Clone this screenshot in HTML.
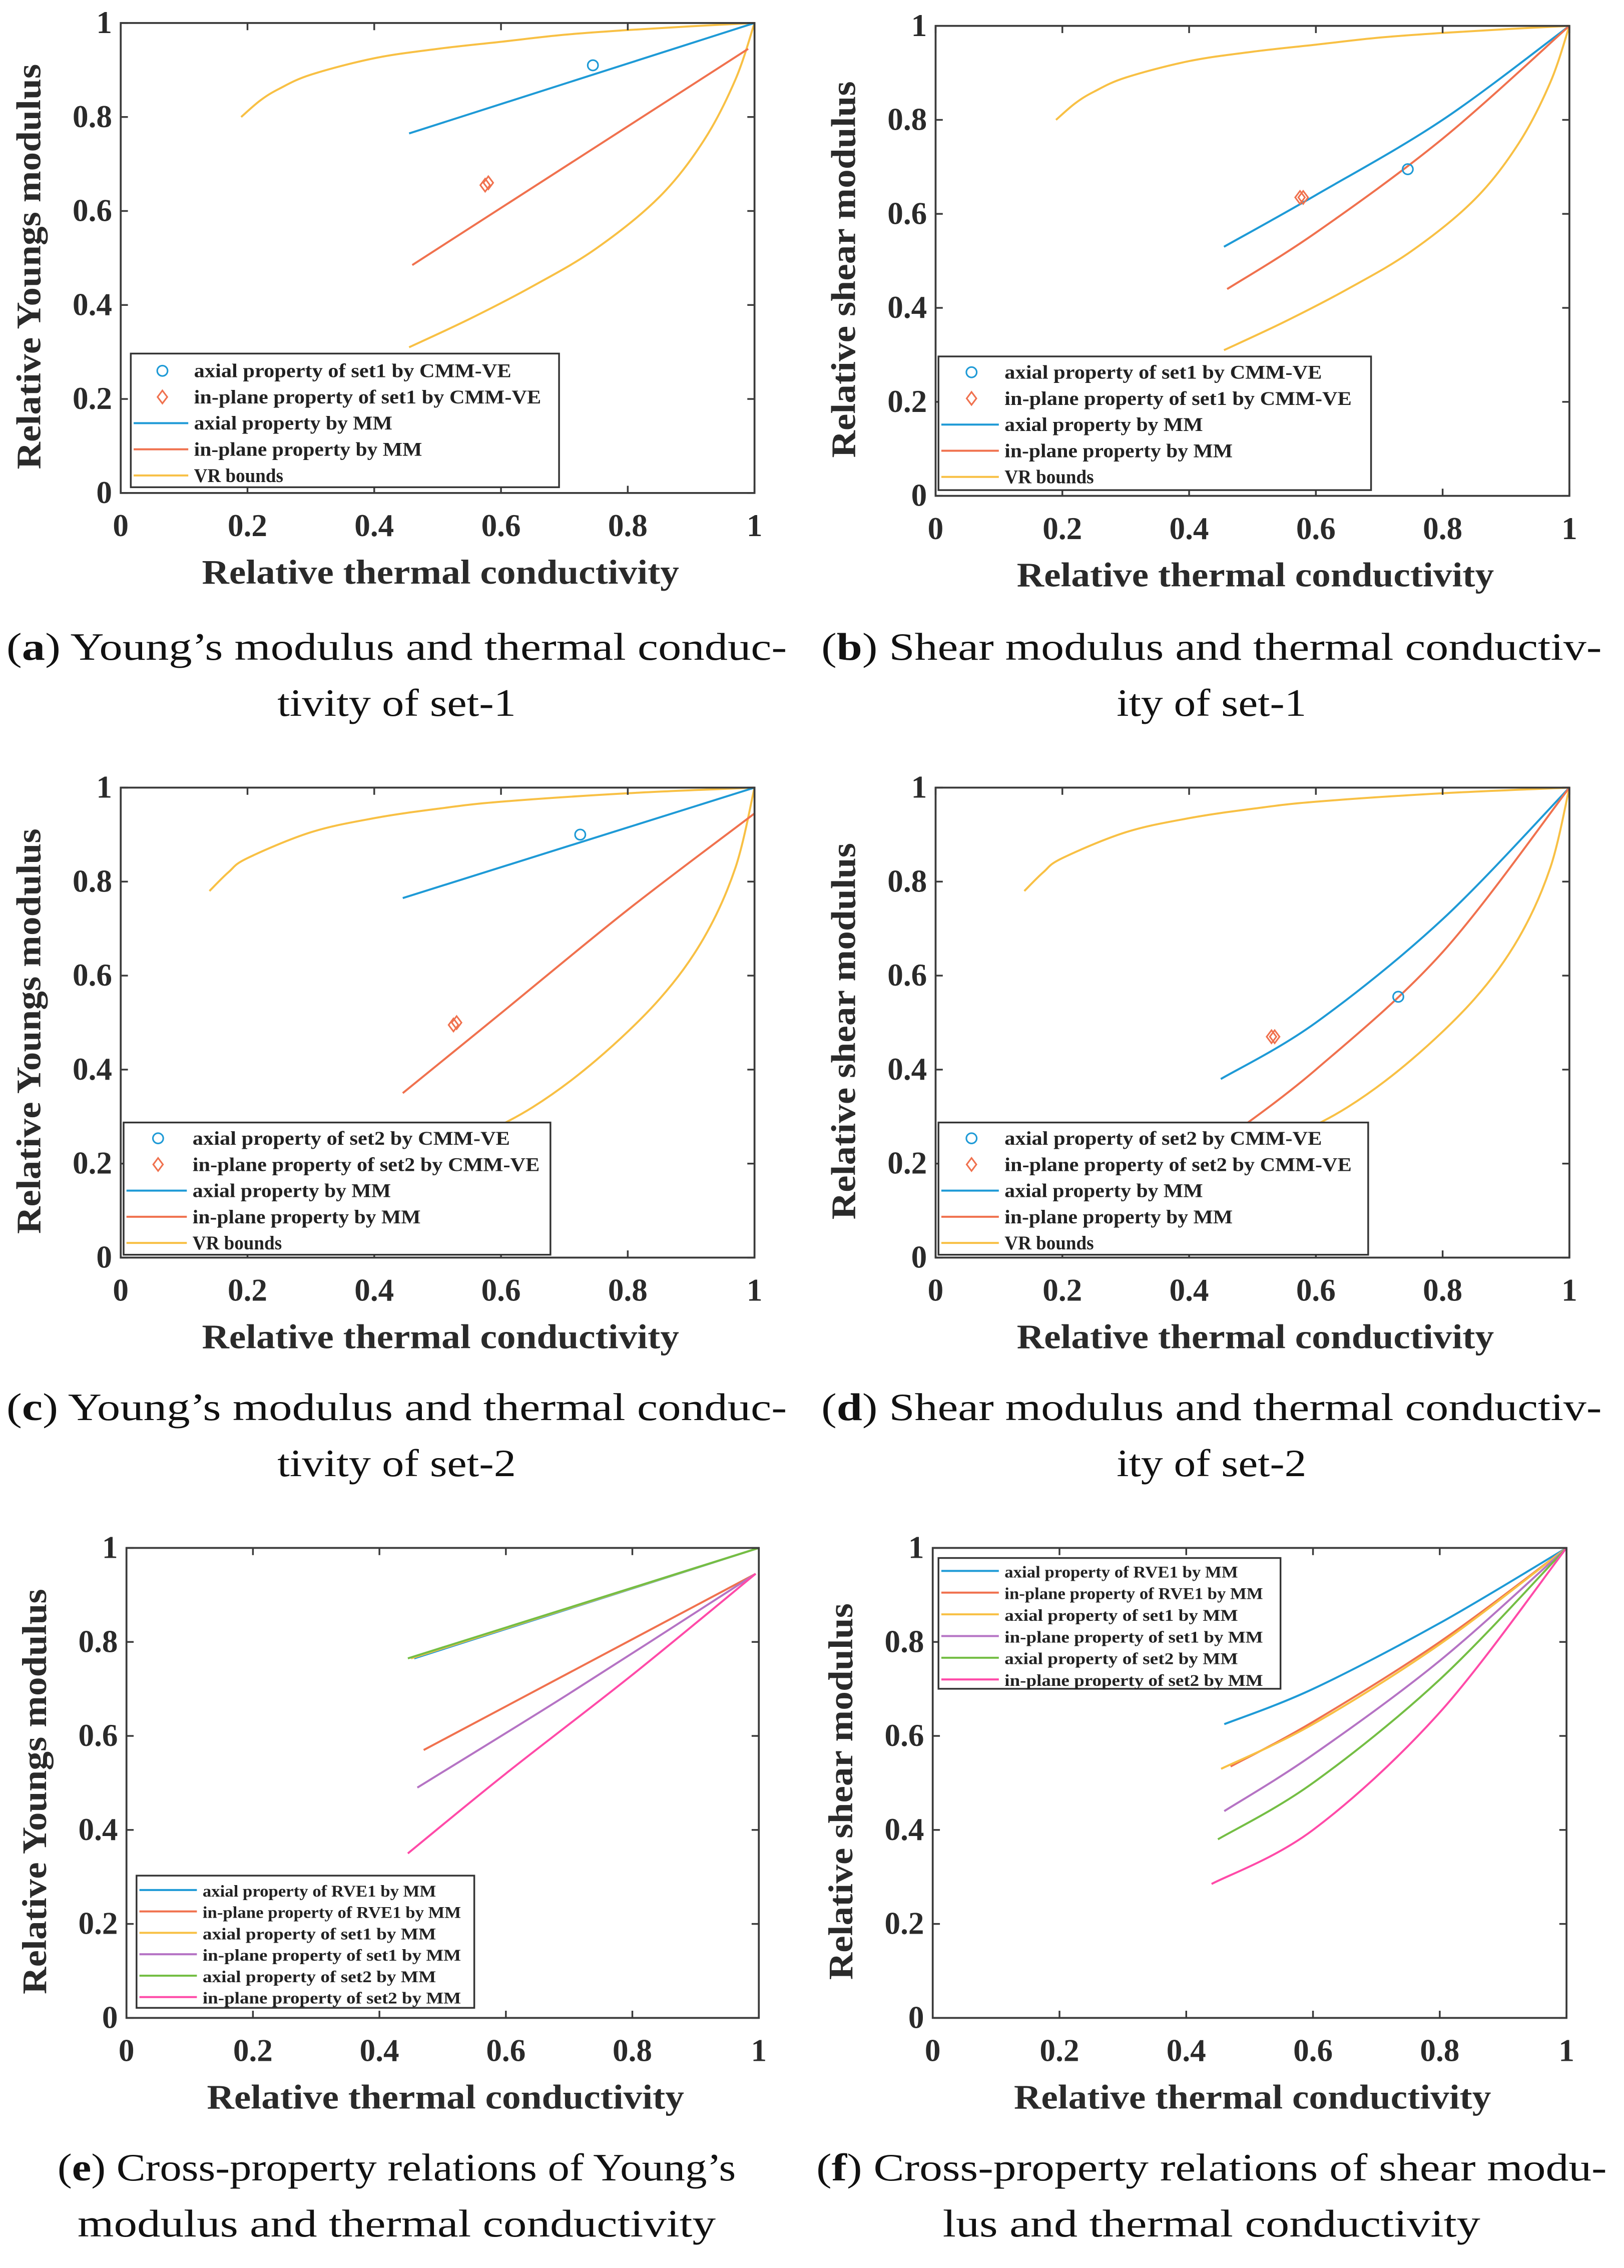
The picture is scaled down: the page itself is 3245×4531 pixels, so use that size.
<!DOCTYPE html>
<html><head><meta charset="utf-8"><style>
html,body{margin:0;padding:0;background:#fff}
svg{display:block}
svg text{font-family:"Liberation Serif","Times New Roman",serif}
</style></head><body>
<svg id="fig" width="3245" height="4531" viewBox="0 0 1130 1578" preserveAspectRatio="none" font-family="'Liberation Serif', serif" xmlns="http://www.w3.org/2000/svg"></svg>
<script>
// ---- data (x = relative thermal conductivity, y = relative modulus) ----
const xTicks=[0,0.2,0.4,0.6,0.8,1];
const xTickLabels=["0","0.2","0.4","0.6","0.8","1"];
const yTicks=[0,0.2,0.4,0.6,0.8,1];
const yTickLabels=["0","0.2","0.4","0.6","0.8","1"];

const vrUpper1X=[0.19,0.22,0.25,0.3,0.4,0.5,0.6,0.7,0.8,0.9,1];
const vrUpper1Y=[0.80,0.835,0.86,0.89,0.925,0.945,0.96,0.975,0.985,0.993,1];
const vrLower1X=[0.455,0.55,0.65,0.75,0.85,0.92,0.97,1];
const vrLower1Y=[0.31,0.37,0.44,0.52,0.63,0.75,0.88,1];
const vrUpper2X=[0.14,0.17,0.2,0.3,0.4,0.5,0.6,0.8,1];
const vrUpper2Y=[0.78,0.82,0.85,0.905,0.935,0.955,0.97,0.988,1];
const vrLower2X=[0.3,0.45,0.55,0.65,0.75,0.85,0.92,0.97,1];
const vrLower2Y=[0.12,0.19,0.25,0.32,0.42,0.55,0.68,0.83,1];

const aAxialX=[0.455,1],aAxialY=[0.765,1];
const aInX=[0.46,0.99],aInY=[0.485,0.945];
const aCircX=[0.745],aCircY=[0.91];
const aDiaX=[0.575,0.58],aDiaY=[0.655,0.66];

const bAxialX=[0.455,0.6,0.8,1],bAxialY=[0.53,0.64,0.8,1];
const bInX=[0.46,0.6,0.8,1],bInY=[0.44,0.56,0.76,1];
const bCircX=[0.745],bCircY=[0.695];
const bDiaX=[0.575,0.58],bDiaY=[0.635,0.635];

const cAxialX=[0.445,1],cAxialY=[0.765,1];
const cInX=[0.445,0.6,0.8,1],cInY=[0.35,0.52,0.74,0.945];
const cCircX=[0.725],cCircY=[0.9];
const cDiaX=[0.525,0.53],cDiaY=[0.495,0.5];

const dAxialX=[0.45,0.6,0.8,1],dAxialY=[0.38,0.5,0.72,1];
const dInX=[0.455,0.6,0.8,1],dInY=[0.25,0.4,0.65,1];
const dCircX=[0.73],dCircY=[0.555];
const dDiaX=[0.53,0.535],dDiaY=[0.47,0.47];

const eAxR1X=[0.455,1],eAxR1Y=[0.765,1];
const eInR1X=[0.47,0.995],eInR1Y=[0.57,0.945];
const eAxS1X=[0.45,1],eAxS1Y=[0.765,1];
const eInS1X=[0.46,0.7,0.995],eInS1Y=[0.49,0.69,0.945];
const eAxS2X=[0.445,1],eAxS2Y=[0.765,1];
const eInS2X=[0.445,0.6,0.8,0.995],eInS2Y=[0.35,0.52,0.73,0.945];

const fAxR1X=[0.46,0.6,0.8,1],fAxR1Y=[0.625,0.7,0.84,1];
const fInR1X=[0.47,0.6,0.8,1],fInR1Y=[0.535,0.63,0.8,1];
const fAxS1X=[0.455,0.6,0.8,1],fAxS1Y=[0.53,0.625,0.795,1];
const fInS1X=[0.46,0.6,0.8,1],fInS1Y=[0.44,0.56,0.76,1];
const fAxS2X=[0.45,0.6,0.8,1],fAxS2Y=[0.38,0.5,0.72,1];
const fInS2X=[0.44,0.6,0.8,1],fInS2Y=[0.285,0.4,0.65,1];

const BLUE="#1e9ad6",ORANGE="#f0714e",YEL="#f8c044",PURP="#b573c4",GREEN="#74be44",PINK="#ff4aa8";
const FONT="'Liberation Serif', serif";
const NS="http://www.w3.org/2000/svg";
const svg=document.getElementById('fig');
function mk(tag,attrs,parent){const e=document.createElementNS(NS,tag);for(const k in attrs)e.setAttribute(k,attrs[k]);if(tag==='text')e.setAttribute('font-family',FONT);(parent||svg).appendChild(e);return e;}
function smoothPath(P){
  if(P.length<3) return 'M'+P.map(p=>p[0].toFixed(2)+','+p[1].toFixed(2)).join(' L');
  let d='M'+P[0][0].toFixed(2)+','+P[0][1].toFixed(2);
  for(let i=0;i<P.length-1;i++){
    const p0=P[i-1]||P[i],p1=P[i],p2=P[i+1],p3=P[i+2]||P[i+1];
    const c1=[p1[0]+(p2[0]-p0[0])/6,p1[1]+(p2[1]-p0[1])/6];
    const c2=[p2[0]-(p3[0]-p1[0])/6,p2[1]-(p3[1]-p1[1])/6];
    d+=` C${c1[0].toFixed(2)},${c1[1].toFixed(2)} ${c2[0].toFixed(2)},${c2[1].toFixed(2)} ${p2[0].toFixed(2)},${p2[1].toFixed(2)}`;
  }
  return d;
}

function panel(p){
  const g=mk('g',{});
  
  
  const X=v=>p.x0+(p.x1-p.x0)*v, Y=v=>p.y1-(p.y1-p.y0)*v;
  p.lines.forEach(s=>{
    const P=s.x.map((v,i)=>[X(v),Y(s.y[i])]);
    const l=mk('path',{d:smoothPath(P),fill:'none',stroke:s.c,'stroke-width':1.4,'stroke-linejoin':'round'},g);
    
    
  });
  (p.circ||[]).forEach(s=>s.x.forEach((v,i)=>{
    const c=mk('circle',{cx:X(v),cy:Y(s.y[i]),r:3.6,fill:'none',stroke:s.c,'stroke-width':1.1},g);
    
    
  }));
  (p.dia||[]).forEach(s=>s.x.forEach((v,i)=>{
    const cx=X(v),cy=Y(s.y[i]),r=4.5;
    const d=mk('polygon',{points:`${cx},${cy-r} ${cx+r*0.75},${cy} ${cx},${cy+r} ${cx-r*0.75},${cy}`,fill:'none',stroke:s.c,'stroke-width':1.1},g);
    
    
  }));
  const fr=mk('rect',{x:p.x0,y:p.y0,width:p.x1-p.x0,height:p.y1-p.y0,fill:'none',stroke:'#3a3a3a','stroke-width':1.3},g);
  
  
  xTicks.forEach((t,i)=>{
    const x=X(t);
    mk('line',{x1:x,y1:p.y1,x2:x,y2:p.y1-5,stroke:'#3a3a3a','stroke-width':1.2},g);
    mk('line',{x1:x,y1:p.y0,x2:x,y2:p.y0+5,stroke:'#3a3a3a','stroke-width':1.2},g);
    const tx=mk('text',{x:x,y:p.y1+30,'font-size':22,'font-weight':'bold','text-anchor':'middle',fill:'#2a2a2a'},g);
    tx.textContent=xTickLabels[i];
    
    
  });
  yTicks.forEach((t,i)=>{
    const y=Y(t);
    mk('line',{x1:p.x0,y1:y,x2:p.x0+5,y2:y,stroke:'#3a3a3a','stroke-width':1.2},g);
    mk('line',{x1:p.x1,y1:y,x2:p.x1-5,y2:y,stroke:'#3a3a3a','stroke-width':1.2},g);
    const ty=mk('text',{x:p.x0-6,y:y+7,'font-size':22,'font-weight':'bold','text-anchor':'end',fill:'#2a2a2a'},g);
    ty.textContent=yTickLabels[i];
    
    
  });
  const xt=mk('text',{x:(p.x0+p.x1)/2+2,y:p.y1+63,'font-size':24,'font-weight':'bold','text-anchor':'middle',fill:'#2a2a2a',textLength:332,lengthAdjust:'spacingAndGlyphs'},g);
  xt.textContent='Relative thermal conductivity';
  
  
  const cy=(p.y0+p.y1)/2+6, cx=p.x0-56;
  const yt=mk('text',{x:cx,y:cy,transform:`rotate(-90 ${cx} ${cy})`,'font-size':24,'font-weight':'bold','text-anchor':'middle',fill:'#2a2a2a',textLength:p.ytLen,lengthAdjust:'spacingAndGlyphs'},g);
  yt.textContent=p.ytitle;
  
  
  const L=p.legend;
  const lg=mk('g',{},g);
  
  
  mk('rect',{x:L.x,y:L.y,width:L.w,height:L.h,fill:'#fff',stroke:'#333','stroke-width':1.2},lg);
  L.items.forEach((it,i)=>{
    const yy=L.y+L.first+i*L.step;
    const eg=mk('g',{},lg);
    
    
    if(it.t==='line') mk('line',{x1:L.x+2,y1:yy,x2:L.x+L.lw,y2:yy,stroke:it.c,'stroke-width':1.4},eg);
    else if(it.t==='circ') mk('circle',{cx:L.x+L.lw/2+2,cy:yy,r:3.6,fill:'none',stroke:it.c,'stroke-width':1.1},eg);
    else {const cx2=L.x+L.lw/2+2,r=4.5;mk('polygon',{points:`${cx2},${yy-r} ${cx2+r*0.75},${yy} ${cx2},${yy+r} ${cx2-r*0.75},${yy}`,fill:'none',stroke:it.c,'stroke-width':1.1},eg);}
    const t=mk('text',{x:L.x+L.lw+4,y:yy+4.5,'font-size':L.fs,'font-weight':'bold',fill:'#222',textLength:it.s.length*L.cw,lengthAdjust:'spacingAndGlyphs'},eg);
    t.textContent=it.s;
  });
}
function caption(cx,y1,y2,letter,l1,l2,w1,w2){
  const g=mk('g',{});
  
  
  const t1=mk('text',{x:cx,y:y1,'font-size':27,'text-anchor':'middle',fill:'#111',textLength:w1,lengthAdjust:'spacingAndGlyphs'},g);
  t1.appendChild(document.createTextNode('('));
  const b=mk('tspan',{'font-weight':'bold'},t1); b.textContent=letter;
  t1.appendChild(document.createTextNode(') '+l1));
  const t2=mk('text',{x:cx,y:y2,'font-size':27,'text-anchor':'middle',fill:'#111',textLength:w2,lengthAdjust:'spacingAndGlyphs'},g);
  t2.textContent=l2;
}
const leg1=(set)=>[{t:'circ',c:BLUE,s:`axial property of ${set} by CMM-VE`},{t:'dia',c:ORANGE,s:`in-plane property of ${set} by CMM-VE`},{t:'line',c:BLUE,s:'axial property by MM'},{t:'line',c:ORANGE,s:'in-plane property by MM'},{t:'line',c:YEL,s:'VR bounds'}];
const leg2=[{t:'line',c:BLUE,s:'axial property of RVE1 by MM'},{t:'line',c:ORANGE,s:'in-plane property of RVE1 by MM'},{t:'line',c:YEL,s:'axial property of set1 by MM'},{t:'line',c:PURP,s:'in-plane property of set1 by MM'},{t:'line',c:GREEN,s:'axial property of set2 by MM'},{t:'line',c:PINK,s:'in-plane property of set2 by MM'}];

panel({name:'panel-a',x0:84,x1:525,y0:16,y1:343,ytitle:'Relative Youngs modulus',ytLen:282,
 lines:[{x:vrUpper1X,y:vrUpper1Y,c:YEL,n:'vr-upper'},{x:vrLower1X,y:vrLower1Y,c:YEL,n:'vr-lower'},{x:aAxialX,y:aAxialY,c:BLUE,n:'axial-mm'},{x:aInX,y:aInY,c:ORANGE,n:'inplane-mm'}],
 circ:[{x:aCircX,y:aCircY,c:BLUE}],dia:[{x:aDiaX,y:aDiaY,c:ORANGE}],
 legend:{x:91,y:246,w:298,h:93,first:12,step:18.2,lw:40,fs:13.5,cw:6.9,items:leg1('set1')}});
panel({name:'panel-b',x0:651,x1:1092,y0:18,y1:345,ytitle:'Relative shear modulus',ytLen:262,
 lines:[{x:vrUpper1X,y:vrUpper1Y,c:YEL,n:'vr-upper'},{x:vrLower1X,y:vrLower1Y,c:YEL,n:'vr-lower'},{x:bAxialX,y:bAxialY,c:BLUE,n:'axial-mm'},{x:bInX,y:bInY,c:ORANGE,n:'inplane-mm'}],
 circ:[{x:bCircX,y:bCircY,c:BLUE}],dia:[{x:bDiaX,y:bDiaY,c:ORANGE}],
 legend:{x:653,y:248,w:301,h:93,first:11,step:18.2,lw:42,fs:13.5,cw:6.9,items:leg1('set1')}});
panel({name:'panel-c',x0:84,x1:525,y0:548,y1:875,ytitle:'Relative Youngs modulus',ytLen:282,
 lines:[{x:vrUpper2X,y:vrUpper2Y,c:YEL,n:'vr-upper'},{x:vrLower2X,y:vrLower2Y,c:YEL,n:'vr-lower'},{x:cAxialX,y:cAxialY,c:BLUE,n:'axial-mm'},{x:cInX,y:cInY,c:ORANGE,n:'inplane-mm'}],
 circ:[{x:cCircX,y:cCircY,c:BLUE}],dia:[{x:cDiaX,y:cDiaY,c:ORANGE}],
 legend:{x:86,y:781,w:297,h:92,first:11,step:18.2,lw:44,fs:13.5,cw:6.9,items:leg1('set2')}});
panel({name:'panel-d',x0:651,x1:1092,y0:548,y1:875,ytitle:'Relative shear modulus',ytLen:262,
 lines:[{x:vrUpper2X,y:vrUpper2Y,c:YEL,n:'vr-upper'},{x:vrLower2X,y:vrLower2Y,c:YEL,n:'vr-lower'},{x:dAxialX,y:dAxialY,c:BLUE,n:'axial-mm'},{x:dInX,y:dInY,c:ORANGE,n:'inplane-mm'}],
 circ:[{x:dCircX,y:dCircY,c:BLUE}],dia:[{x:dDiaX,y:dDiaY,c:ORANGE}],
 legend:{x:653,y:781,w:299,h:92,first:11,step:18.2,lw:42,fs:13.5,cw:6.9,items:leg1('set2')}});
panel({name:'panel-e',x0:88,x1:528,y0:1077,y1:1404,ytitle:'Relative Youngs modulus',ytLen:282,
 lines:[{x:eAxR1X,y:eAxR1Y,c:BLUE,n:'axial-rve1'},{x:eInR1X,y:eInR1Y,c:ORANGE,n:'inplane-rve1'},{x:eAxS1X,y:eAxS1Y,c:YEL,n:'axial-set1'},{x:eInS1X,y:eInS1Y,c:PURP,n:'inplane-set1'},{x:eAxS2X,y:eAxS2Y,c:GREEN,n:'axial-set2'},{x:eInS2X,y:eInS2Y,c:PINK,n:'inplane-set2'}],
 legend:{x:95,y:1305,w:235,h:92,first:10,step:14.9,lw:42,fs:11.5,cw:5.8,items:leg2}});
panel({name:'panel-f',x0:649,x1:1090,y0:1077,y1:1404,ytitle:'Relative shear modulus',ytLen:262,
 lines:[{x:fAxR1X,y:fAxR1Y,c:BLUE,n:'axial-rve1'},{x:fInR1X,y:fInR1Y,c:ORANGE,n:'inplane-rve1'},{x:fAxS1X,y:fAxS1Y,c:YEL,n:'axial-set1'},{x:fInS1X,y:fInS1Y,c:PURP,n:'inplane-set1'},{x:fAxS2X,y:fAxS2Y,c:GREEN,n:'axial-set2'},{x:fInS2X,y:fInS2Y,c:PINK,n:'inplane-set2'}],
 legend:{x:653,y:1084,w:238,h:91,first:9,step:15.1,lw:42,fs:11.5,cw:5.8,items:leg2}});

caption(276,459,498,'a','Young’s modulus and thermal conduc-','tivity of set-1',543,166);
caption(843,459,498,'b','Shear modulus and thermal conductiv-','ity of set-1',543,132);
caption(276,988,1027,'c','Young’s modulus and thermal conduc-','tivity of set-2',543,166);
caption(843,988,1027,'d','Shear modulus and thermal conductiv-','ity of set-2',543,132);
caption(276,1517,1556,'e','Cross-property relations of Young’s','modulus and thermal conductivity',472,444);
caption(843,1517,1556,'f','Cross-property relations of shear modu-','lus and thermal conductivity',550,374);
</script>
</body></html>
